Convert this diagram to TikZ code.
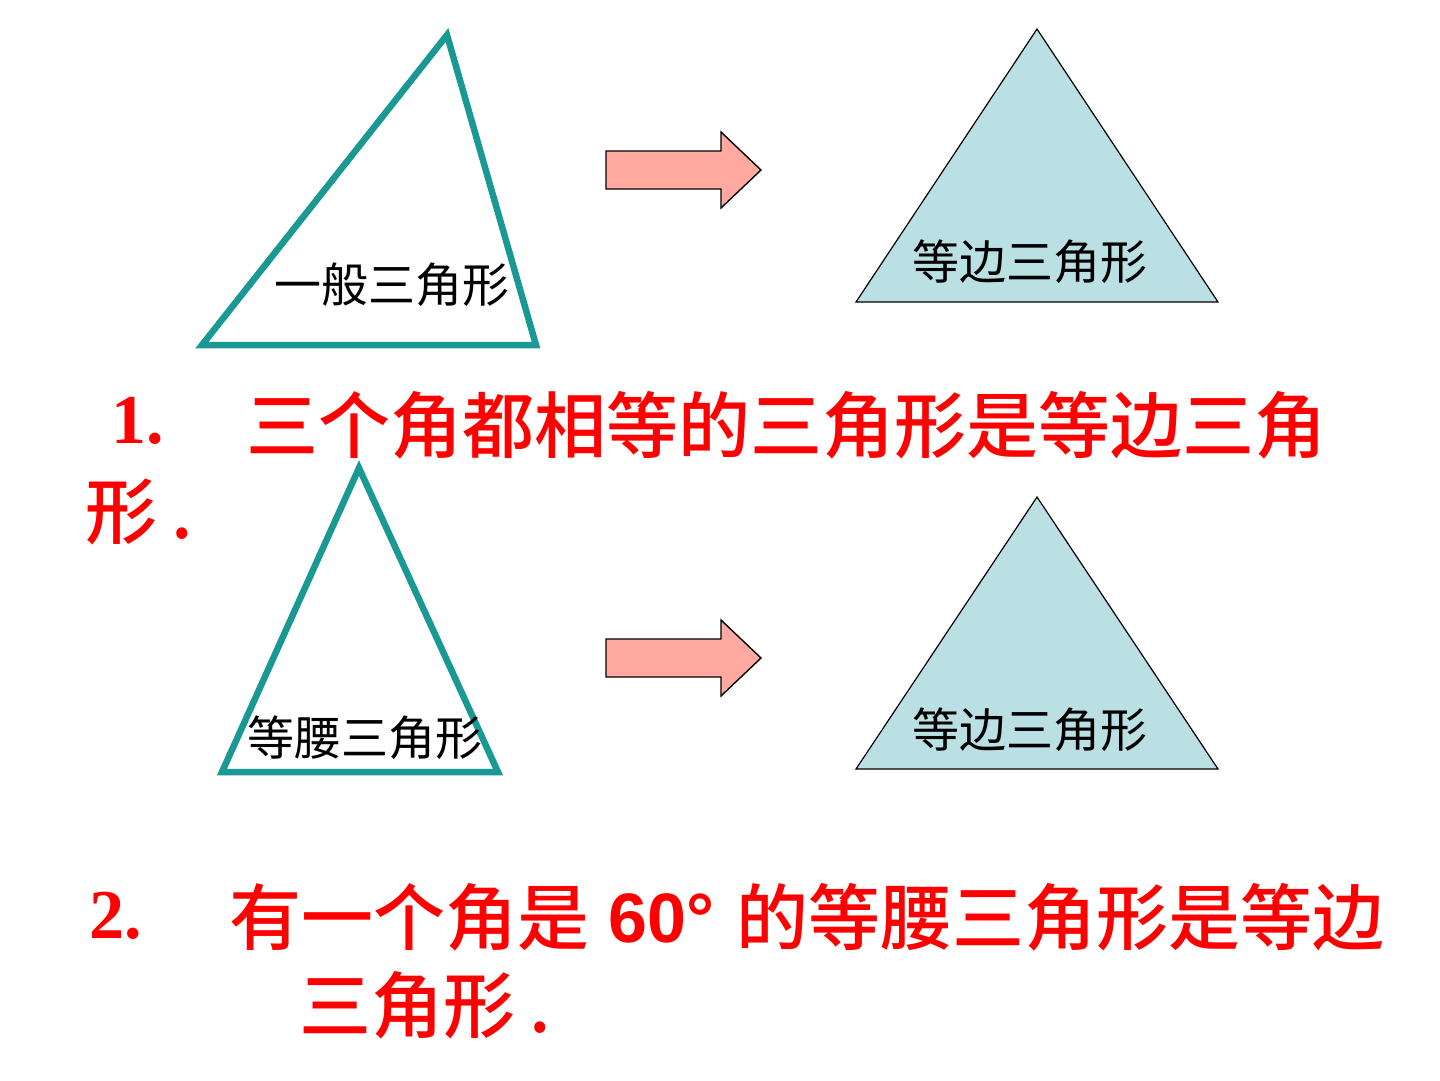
\documentclass[tikz,border=0pt]{standalone}
\usepackage{fontspec}
\setmainfont{Liberation Serif}
\newfontfamily\cjk{Noto Sans CJK SC}
\newfontfamily\cjkm{Noto Sans CJK SC Medium}
\newfontfamily\arialf{Liberation Sans}
\definecolor{teal1}{RGB}{26,153,148}
\definecolor{paleblue}{RGB}{187,224,227}
\definecolor{salmon1}{RGB}{255,169,160}
\definecolor{redtxt}{RGB}{255,0,0}
\begin{document}
\begin{tikzpicture}[x=1pt,y=-1pt,
  tealtri/.style={draw=teal1,line width=6.5pt,line join=miter},
  bluetri/.style={draw=black,fill=paleblue,line width=1.2pt},
  blockarrow/.style={draw=black,fill=salmon1,line width=1.4pt,line join=miter},
  lbl/.style={anchor=base west,inner sep=0pt,font=\cjk\fontsize{47}{47}\selectfont},
  bigtxt/.style={anchor=base west,inner sep=0pt,text=redtxt,font=\cjkm\fontsize{72}{72}\selectfont},
  numtxt/.style={anchor=base west,inner sep=0pt,text=redtxt,font=\bfseries\fontsize{70}{70}\selectfont}]
\useasboundingbox (0,0) rectangle (1440,1080);
\fill[white] (0,0) rectangle (1440,1080);

% top row
\draw[tealtri] (447,35) -- (202,345) -- (536,345) -- cycle;
\node[lbl] (t1) at (274,302) {一般三角形};

\draw[blockarrow] (606,151) -- (721,151) -- (721,132) -- (761,170) -- (721,208) -- (721,189) -- (606,189) -- cycle;

\draw[bluetri] (1037,29) -- (856,302) -- (1218,302) -- cycle;
\node[lbl] (t2) at (912,279) {等边三角形};

% statement 1
\node[numtxt] (n1) at (111,443) {1.};
\node[bigtxt] (s1a) at (246,452) {三个角都相等的三角形是等边三角};
\node[bigtxt] (s1b) at (85,538) {形\hspace{14pt}.};

% second row
\draw[tealtri] (359,468) -- (222,772) -- (498,772) -- cycle;
\node[lbl] (t3) at (247,755) {等腰三角形};

\draw[blockarrow] (606,639) -- (721,639) -- (721,620) -- (761,658) -- (721,696) -- (721,677) -- (606,677) -- cycle;

\draw[bluetri] (1037,497) -- (856,769) -- (1218,769) -- cycle;
\node[lbl] (t4) at (912,747) {等边三角形};

% statement 2
\node[numtxt] (n2) at (89,938) {2.};
\node[bigtxt] (s2a) at (229,944) {有一个角是};
\node[anchor=base west,inner sep=0pt,text=redtxt,font=\arialf\bfseries\fontsize{70}{70}\selectfont] (s2b) at (608,942) {60°};
\node[bigtxt] (s2c) at (736,944) {的等腰三角形是等边};
\node[bigtxt] (s2d) at (299,1032) {三角形\hspace{14pt}.};
\end{tikzpicture}
\end{document}
